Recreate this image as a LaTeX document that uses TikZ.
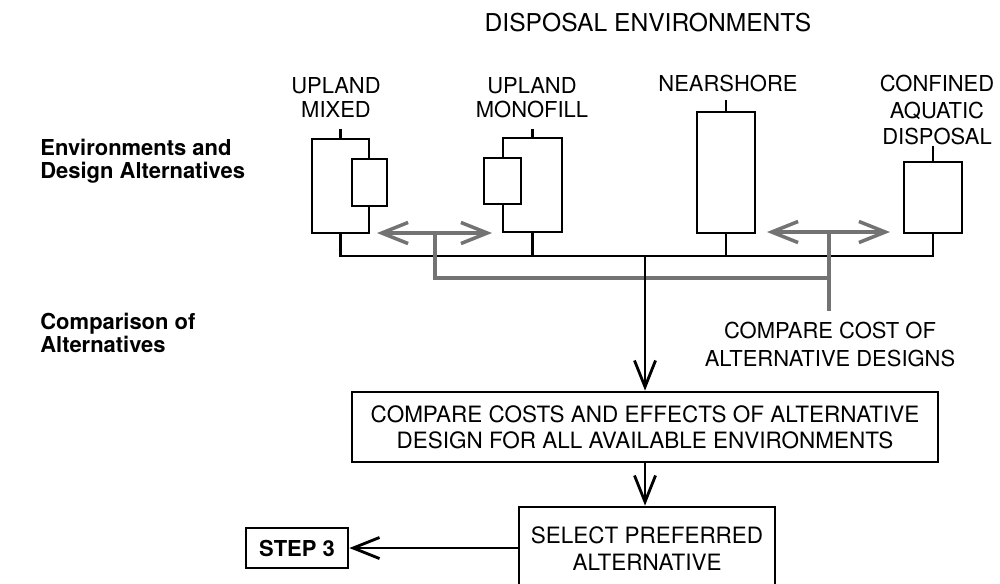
\documentclass[tikz,border=0pt]{standalone}
\usepackage{fontspec}
\setmainfont{TeX Gyre Heros}
\usetikzlibrary{arrows.meta, positioning}
\tikzset{
  envbox/.style={draw, line width=1.6pt, fill=white, inner sep=0pt},
  txtbox/.style={draw, line width=1.6pt, align=center, inner sep=0pt,
    font=\fontsize{12.8}{15}\selectfont},
  envlbl/.style={align=center, inner sep=0pt, font=\fontsize{12.5}{13.5}\selectfont},
  sidelbl/.style={align=left, anchor=west, inner sep=0pt,
    font=\fontsize{12.5}{13}\selectfont\bfseries},
  link/.style={line width=1.6pt},
  cmp/.style={line width=2pt, draw=black!55}
}

\begin{document}
\begin{tikzpicture}[x=0.02cm, y=-0.02cm, >={Straight Barb[length=15pt,width=12pt]}]
  \clip (0,0) rectangle (1000,583);
  % headings
  \node[font=\fontsize{14}{16}\selectfont] (title) at (648,22.5) {DISPOSAL ENVIRONMENTS};
  \node[sidelbl] (envside) at (40,161) {Environments and\\Design Alternatives};
  \node[sidelbl] (cmpside) at (40,333) {Comparison of\\Alternatives};
  % disposal environments
  \node[envlbl] (mixlbl) at (336,97.5) {UPLAND\\MIXED};
  \node[envlbl] (monolbl) at (532,97.5) {UPLAND\\MONOFILL};
  \node[envlbl] (nearlbl) at (728,83.5) {NEARSHORE};
  \node[envlbl, font=\fontsize{12.5}{15}\selectfont] (conflbl) at (937,110) {CONFINED\\AQUATIC\\DISPOSAL};
  \node[envbox, minimum width=1.14cm, minimum height=1.88cm] (mixbox) at (340.5,186) {};
  \node[envbox, minimum width=0.7cm, minimum height=0.94cm] (mixin) at (369.5,182.5) {};
  \node[envbox, minimum width=1.18cm, minimum height=1.88cm] (monobox) at (532.5,185) {};
  \node[envbox, minimum width=0.74cm, minimum height=0.92cm] (monoin) at (502.5,181) {};
  \node[envbox, minimum width=1.16cm, minimum height=2.42cm] (nearbox) at (726,172.5) {};
  \node[envbox, minimum width=1.16cm, minimum height=1.42cm] (confbox) at (933,197.5) {};
  \draw[link] (mixbox.north) -- ++(0,-9);
  \draw[link] (monobox.north) -- ++(0,-8);
  \draw[link] (nearbox.north) -- ++(0,-11);
  \draw[link] (confbox.north) -- ++(0,-15);
  % collecting bus
  \coordinate (bus) at (0,256);
  \coordinate (junc) at (645,256);
  \draw[link] (mixbox.south) -- (mixbox.south |- bus) -- (confbox.south |- bus) -- (confbox.south);
  \draw[link] (monobox.south) -- (monobox.south |- bus);
  \draw[link] (nearbox.south) -- (nearbox.south |- bus);
  % cost comparison
  \node[envlbl, font=\fontsize{12.5}{15.5}\selectfont] (costlbl) at (830,344.5) {COMPARE COST OF\\ALTERNATIVE DESIGNS};
  \coordinate (gaL1) at (377,233);
  \coordinate (gaL2) at (492,233);
  \coordinate (gaR1) at (767,232);
  \coordinate (gaR2) at (890,232);
  \coordinate (gsplitL) at (435,233);
  \coordinate (gsplitR) at (829,232);
  \coordinate (gbus) at (0,278);
  \draw[cmp, <->] (gaL1) -- (gaL2);
  \draw[cmp, <->] (gaR1) -- (gaR2);
  \draw[cmp] (gsplitL) -- (gsplitL |- gbus) -- (gsplitR |- gbus);
  \draw[cmp, shorten >=6.5pt] (gsplitR) -- (gsplitR |- costlbl.north);
  % decision steps
  \node[txtbox, minimum width=11.72cm, minimum height=1.4cm] (cmpbox) at (645,427)
    {COMPARE COSTS AND EFFECTS OF ALTERNATIVE\\DESIGN FOR ALL AVAILABLE ENVIRONMENTS};
  \node[txtbox, minimum width=5.12cm, minimum height=1.66cm] (selbox) at (647,548.5)
    {SELECT PREFERRED\\ALTERNATIVE};
  \node[txtbox, font=\fontsize{12.5}{15}\selectfont\bfseries, minimum width=2.04cm,
    minimum height=0.8cm] (stepthree) at (297,548) {STEP 3};
  \draw[link, ->] (junc) -- (cmpbox.north);
  \draw[link, ->] (cmpbox.south) -- (cmpbox.south |- selbox.north);
  \draw[link, ->] (selbox.west |- stepthree) -- (stepthree.east);
\end{tikzpicture}
\end{document}
